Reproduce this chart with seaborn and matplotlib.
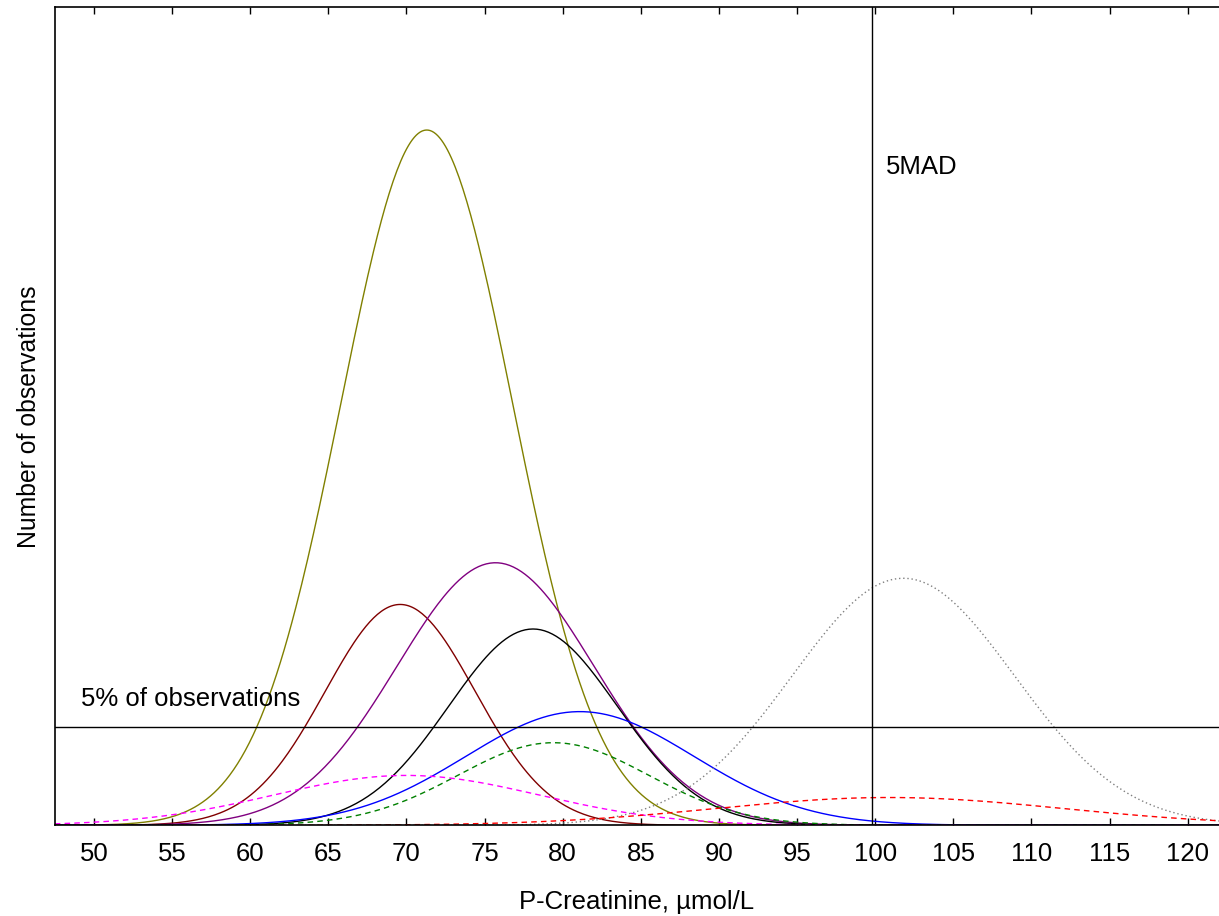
import numpy as np
import pandas as pd
import matplotlib
matplotlib.use('Agg')
import matplotlib.pyplot as plt
import seaborn as sns

# fitted normal curves: centre, spread, peak height
names  = ['olive', 'darkred', 'purple', 'black', 'blue', 'green', 'magenta', 'gray', 'red']
means  = [71.3, 69.6, 75.7, 78.1, 81.1, 79.4, 70.0, 101.8, 100.9]
sds    = [5.5, 4.8, 6.3, 5.4, 7.3, 6.1, 8.5, 7.1, 11.1]
peaks  = [85.0, 27.0, 32.1, 24.0, 13.9, 10.1, 6.1, 30.2, 3.4]
colors = ['#808000', '#800000', '#800080', '#000000', '#0000ff',
          '#008000', '#ff00ff', '#808080', '#ff0000']
styles = ['-', '-', '-', '-', '-', (0, (4, 3)), (0, (4, 3)), (0, (1, 2)), (0, (4, 3))]

five_pct = 12.0
mad_line = 99.8
xticks = list(range(50, 121, 5))

sns.set_style('white')
plt.rcParams['font.family'] = ['Liberation Sans', 'DejaVu Sans']
plt.rcParams['text.color'] = 'black'
plt.rcParams['axes.labelcolor'] = 'black'

xs = np.linspace(47.5, 122, 600)
rows = []
for n, m, s, p in zip(names, means, sds, peaks):
    for x in xs:
        rows.append((n, x, p * np.exp(-0.5 * ((x - m) / s) ** 2)))
df = pd.DataFrame(rows, columns=['curve', 'x', 'y'])

fig = plt.figure(figsize=(12.19, 9.16), dpi=100)
ax = fig.add_axes([0.045, 0.099, 0.955, 0.893])

for n, c, ls in zip(names, colors, styles):
    sns.lineplot(data=df[df.curve == n], x='x', y='y', color=c, linewidth=1.0,
                 linestyle=ls, ax=ax)

ax.axhline(five_pct, color='black', linewidth=1.0)
ax.axvline(mad_line, color='black', linewidth=1.0)
ax.text(100.7, 80.5, '5MAD', fontsize=18.5, va='center', ha='left')
ax.text(49.2, 15.5, '5% of observations', fontsize=18.5, va='center', ha='left')

ax.set_xlim(47.5, 122)
ax.set_ylim(0, 100)
ax.set_xticks(xticks)
ax.set_yticks([])
ax.tick_params(axis='x', direction='in', length=5, width=1.0, top=True, bottom=True,
               labelsize=18.5, pad=12, colors='black')
ax.set_xlabel('P-Creatinine, µmol/L', fontsize=18.5, labelpad=17)
ax.set_ylabel('Number of observations', fontsize=17.8, labelpad=10)
for side in ['left', 'top', 'bottom']:
    ax.spines[side].set_color('black')
    ax.spines[side].set_linewidth(1.2)
ax.spines['right'].set_visible(False)

fig.savefig('out.png', dpi=100)
